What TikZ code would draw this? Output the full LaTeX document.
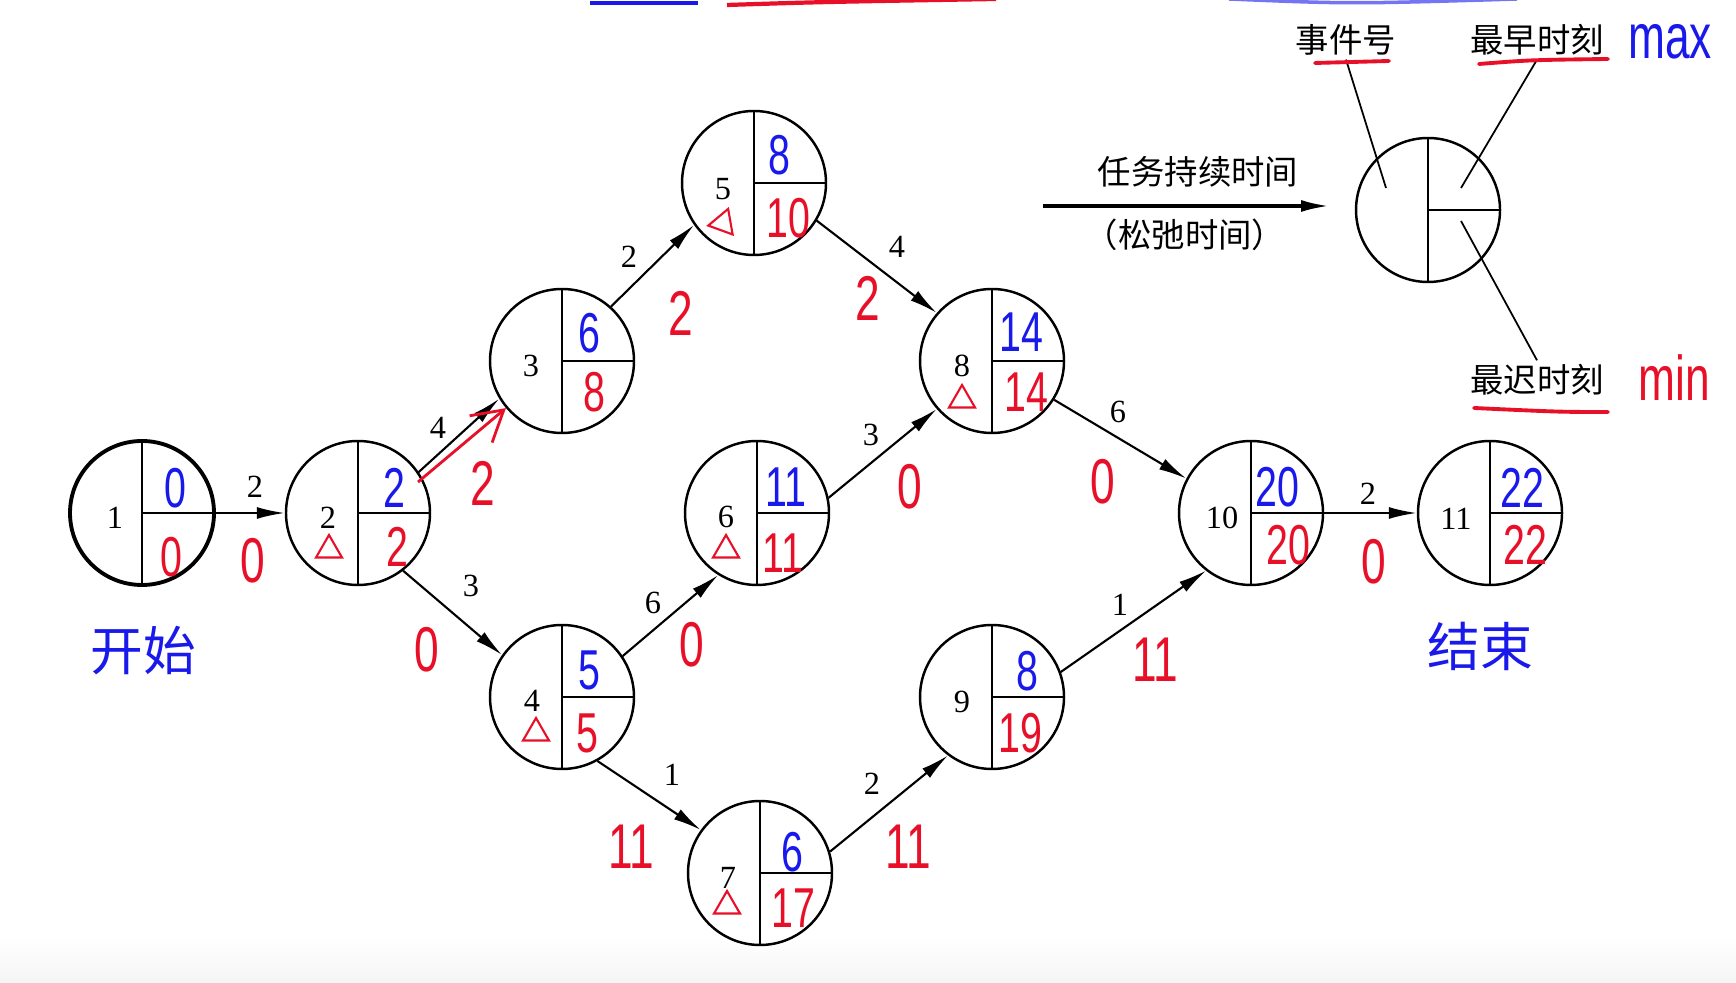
\documentclass[tikz,border=0pt]{standalone}
\usepackage{fontspec}
\setmainfont{Liberation Serif}
\newfontfamily\cjk{Noto Sans CJK SC}
\newfontfamily\hand[FakeStretch=0.7]{Liberation Sans}
\usepackage{tikz}
\usetikzlibrary{arrows.meta, shapes.geometric, positioning}
\usepackage{xcolor}
\definecolor{penblue}{RGB}{25,25,235}
\definecolor{penred}{RGB}{232,16,40}

\begin{document}
\begin{tikzpicture}[
      every node/.style={font=\fontsize{9.2}{10}\selectfont},
      event/.style={circle, draw, line width=0.7pt, minimum size=1.44cm, inner sep=0pt,
        path picture={\draw[line width=0.8pt] (path picture bounding box.north) -- (path picture bounding box.south)
          (path picture bounding box.center) -- (path picture bounding box.east);}},
      num/.style={inner sep=1pt},
      early/.style={text=penblue, font=\hand\fontsize{16}{16}\selectfont, inner sep=0pt},
      late/.style={text=penred, font=\hand\fontsize{16}{16}\selectfont, inner sep=0pt},
      slack/.style={text=penred, font=\hand\fontsize{18}{18}\selectfont, inner sep=0pt},
      crit/.style={regular polygon, regular polygon sides=3, draw=penred, line width=0.6pt, minimum size=0.3cm, inner sep=0pt},
      task/.style={-{Latex[length=2.8mm,width=1.2mm]}, line width=0.6pt},
      tag/.style={font=\cjk\fontsize{9.5}{11}\selectfont, inner sep=1pt},
      lead/.style={line width=0.5pt},
      pen/.style={penred, line width=1.1pt, line cap=round},
      scrawl/.style={text=penblue, font=\cjk\fontsize{15}{15}\selectfont}
    ]
    \useasboundingbox (0,0) rectangle (17.36,9.82);
    \fill[top color=white, bottom color=black!4, draw=none] (0,0) rectangle (17.36,0.45);

    % Events
    \node[event, line width=1.1pt] (n1) at (1.42,4.69) {};
    \node[event] (n2) at (3.58,4.69) {};
    \node[event] (n3) at (5.62,6.21) {};
    \node[event] (n4) at (5.62,2.85) {};
    \node[event] (n5) at (7.54,7.99) {};
    \node[event] (n6) at (7.57,4.69) {};
    \node[event] (n7) at (7.60,1.09) {};
    \node[event] (n8) at (9.92,6.21) {};
    \node[event] (n9) at (9.92,2.85) {};
    \node[event] (n10) at (12.51,4.69) {};
    \node[event] (n11) at (14.90,4.69) {};

    % Event numbers
    \node[num] (k1) at ([shift={(-0.27,-0.05)}]n1.center) {1};
    \node[num] (k2) at ([shift={(-0.30,-0.05)}]n2.center) {2};
    \node[num] (k3) at ([shift={(-0.31,-0.05)}]n3.center) {3};
    \node[num] (k4) at ([shift={(-0.30,-0.04)}]n4.center) {4};
    \node[num] (k5) at ([shift={(-0.31,-0.06)}]n5.center) {5};
    \node[num] (k6) at ([shift={(-0.31,-0.04)}]n6.center) {6};
    \node[num] (k7) at ([shift={(-0.32,-0.05)}]n7.center) {7};
    \node[num] (k8) at ([shift={(-0.30,-0.05)}]n8.center) {8};
    \node[num] (k9) at ([shift={(-0.30,-0.05)}]n9.center) {9};
    \node[num] (k10) at ([shift={(-0.29,-0.05)}]n10.center) {10};
    \node[num] (k11) at ([shift={(-0.34,-0.06)}]n11.center) {11};

    % Earliest times
    \node[early] (e1) at ([shift={(0.33,0.25)}]n1.center) {0};
    \node[early] (e2) at ([shift={(0.36,0.25)}]n2.center) {2};
    \node[early] (e3) at ([shift={(0.27,0.28)}]n3.center) {6};
    \node[early] (e4) at ([shift={(0.27,0.27)}]n4.center) {5};
    \node[early] (e5) at ([shift={(0.25,0.28)}]n5.center) {8};
    \node[early] (e6) at ([shift={(0.29,0.26)}]n6.center) {11};
    \node[early] (e7) at ([shift={(0.32,0.21)}]n7.center) {6};
    \node[early] (e8) at ([shift={(0.29,0.29)}]n8.center) {14};
    \node[early] (e9) at ([shift={(0.35,0.26)}]n9.center) {8};
    \node[early] (e10) at ([shift={(0.26,0.26)}]n10.center) {20};
    \node[early] (e11) at ([shift={(0.32,0.25)}]n11.center) {22};

    % Latest times
    \node[late] (l1) at ([shift={(0.29,-0.44)}]n1.center) {0};
    \node[late] (l2) at ([shift={(0.39,-0.34)}]n2.center) {2};
    \node[late] (l3) at ([shift={(0.32,-0.31)}]n3.center) {8};
    \node[late] (l4) at ([shift={(0.25,-0.36)}]n4.center) {5};
    \node[late] (l5) at ([shift={(0.34,-0.35)}]n5.center) {10};
    \node[late] (l6) at ([shift={(0.26,-0.40)}]n6.center) {11};
    \node[late] (l7) at ([shift={(0.33,-0.35)}]n7.center) {17};
    \node[late] (l8) at ([shift={(0.34,-0.31)}]n8.center) {14};
    \node[late] (l9) at ([shift={(0.28,-0.36)}]n9.center) {19};
    \node[late] (l10) at ([shift={(0.37,-0.32)}]n10.center) {20};
    \node[late] (l11) at ([shift={(0.35,-0.32)}]n11.center) {22};

    % Critical marks
    \node[crit] (c2) at ([shift={(-0.29,-0.37)}]n2.center) {};
    \node[crit] (c4) at ([shift={(-0.26,-0.36)}]n4.center) {};
    \node[crit, shape border rotate=-20] (c5) at ([shift={(-0.31,-0.40)}]n5.center) {};
    \node[crit] (c6) at ([shift={(-0.31,-0.37)}]n6.center) {};
    \node[crit] (c7) at ([shift={(-0.33,-0.33)}]n7.center) {};
    \node[crit] (c8) at ([shift={(-0.30,-0.39)}]n8.center) {};

    % Tasks
    \draw[task] (n1) -- (n2);
    \draw[task] (n2.34) -- (n3.211);
    \draw[task] (n2.-52) -- (n4.145);
    \draw[task] (n3.48) -- (n5.215);
    \draw[task] (n5.-31) -- (n8.139);
    \draw[task] (n4.34) -- (n6.238);
    \draw[task] (n4.-61) -- (n7.144);
    \draw[task] (n6.12) -- (n8.221);
    \draw[task] (n7.17) -- (n9.233);
    \draw[task] (n8.-32) -- (n10.152);
    \draw[task] (n9.20) -- (n10.232);
    \draw[task] (n10) -- (n11);

    % Durations
    \node[num] (d12) at (2.55,4.95) {2};
    \node[num] (d23) at (4.38,5.54) {4};
    \node[num] (d24) at (4.71,3.96) {3};
    \node[num] (d35) at (6.29,7.25) {2};
    \node[num] (d58) at (8.97,7.35) {4};
    \node[num] (d46) at (6.53,3.79) {6};
    \node[num] (d47) at (6.72,2.07) {1};
    \node[num] (d68) at (8.71,5.47) {3};
    \node[num] (d79) at (8.72,1.98) {2};
    \node[num] (d810) at (11.18,5.70) {6};
    \node[num] (d910) at (11.20,3.77) {1};
    \node[num] (d1011) at (13.68,4.88) {2};

    % Slack
    \node[slack] (s12) at (2.53,4.21) {0};
    \node[slack] (s23) at (4.83,4.99) {2};
    \node[slack] (s24) at (4.27,3.32) {0};
    \node[slack] (s35) at (6.81,6.69) {2};
    \node[slack] (s58) at (8.68,6.84) {2};
    \node[slack] (s46) at (6.92,3.37) {0};
    \node[slack] (s47) at (6.31,1.35) {11};
    \node[slack] (s68) at (9.10,4.95) {0};
    \node[slack] (s79) at (9.08,1.35) {11};
    \node[slack] (s810) at (11.03,5.00) {0};
    \node[slack] (s910) at (11.55,3.22) {11};
    \node[slack] (s1011) at (13.74,4.20) {0};

    % Critical path hint
    \coordinate (hint) at (4.18,5.00);
    \draw[penred, line width=0.8pt, -{Straight Barb[length=3mm,width=3.5mm]}] (hint) -- (n3);

    \node[scrawl] (start) at (1.43,3.31) {开始};
    \node[scrawl] (finish) at (14.80,3.36) {结束};

    % Legend
    \node[event] (key) at (14.28,7.72) {};
    \node[tag] (keyno) at (13.46,9.42) {事件号};
    \node[tag] (keyearly) at (15.37,9.42) {最早时刻};
    \node[tag] (keylate) at (15.37,6.02) {最迟时刻};
    \node[early, font=\hand\fontsize{18}{18}\selectfont] (kmax) at (16.70,9.40) {max};
    \node[late, font=\hand\fontsize{18}{18}\selectfont] (kmin) at (16.74,6.04) {min};
    \coordinate (pno) at (13.86,7.94);
    \coordinate (pearly) at (14.61,7.94);
    \coordinate (plate) at (14.61,7.61);
    \draw[lead] (keyno.south) -- (pno);
    \draw[lead] (keyearly.south) -- (pearly);
    \draw[lead] (keylate.north) -- (plate);

    \coordinate (ka) at (10.43,7.76);
    \coordinate (kb) at (13.29,7.76);
    \draw[task, line width=0.9pt] (ka) -- (kb);
    \node[tag] (kdur) at (11.98,8.10) {任务持续时间};
    \node[tag] (kslack) at (11.85,7.47) {（松弛时间）};

    % Pen marks
    \draw[pen] (13.15,9.19) -- (13.89,9.21);
    \draw[pen] (14.79,9.18) .. controls (15.30,9.22) .. (16.08,9.23);
    \draw[pen] (14.74,5.74) .. controls (15.60,5.70) .. (16.08,5.70);
    \draw[penblue, line width=1.2pt] (5.90,9.79) -- (6.98,9.79);
    \draw[penred, line width=1.2pt] (7.27,9.77) .. controls (8.20,9.80) .. (9.96,9.83);
    \draw[penblue!60, line width=1pt] (12.29,9.83) .. controls (13.50,9.78) .. (15.17,9.83);

    \end{tikzpicture}
\end{document}
